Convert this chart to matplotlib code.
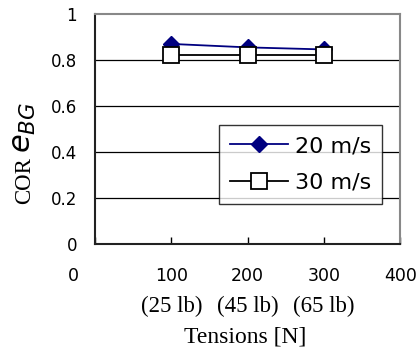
import matplotlib
matplotlib.use("Agg")
import matplotlib.pyplot as plt

# Data
tensions = [100, 200, 300]
lb_labels = ["(25 lb)", "(45 lb)", "(65 lb)"]
cor_20 = [0.87, 0.855, 0.846]
cor_30 = [0.82, 0.82, 0.82]
series_names = ["20 m/s", "30 m/s"]
x_ticks = [0, 100, 200, 300, 400]
y_ticks = [0, 0.2, 0.4, 0.6, 0.8, 1]
y_ticklabels = ["0", "0.2", "0.4", "0.6", "0.8", "1"]

SERIF = "Liberation Serif"
SANS = "DejaVu Sans"

fig = plt.figure(figsize=(4.19, 3.51), dpi=100)
ax = fig.add_axes([0.227, 0.305, 0.728, 0.655])

# gridlines
for yv in y_ticks[1:-1]:
    ax.axhline(yv, color="black", lw=0.9, zorder=1)

ax.plot(tensions, cor_20, color="#000080", lw=1.3, marker="D", ms=8.6,
        mfc="#000080", mec="#000080", label=series_names[0], zorder=3)
ax.plot(tensions, cor_30, color="black", lw=1.3, marker="s", ms=11.5,
        mfc="white", mec="black", mew=1.3, label=series_names[1], zorder=4)

ax.set_xlim(0, 400)
ax.set_ylim(0, 1)

ax.set_yticks(y_ticks)
ax.set_yticklabels(y_ticklabels, fontsize=12, family=SANS)
ax.tick_params(axis="y", length=0, pad=13)

ax.set_xticks(x_ticks)
ax.set_xticklabels([])
ax.tick_params(axis="x", direction="in", length=5, width=1)

# x tick labels drawn by hand; Excel puts "0" left of the axis start
for x in x_ticks:
    dx = -16 if x == 0 else 0
    ax.annotate(str(x), xy=(x, 0), xycoords=("data", "axes fraction"),
                xytext=(dx, -23), textcoords="offset points",
                ha="center", va="center", fontsize=12.5, family=SANS)

for x, s in zip(tensions, lb_labels):
    ax.annotate(s, xy=(x, 0), xycoords=("data", "axes fraction"),
                xytext=(0, -45), textcoords="offset points",
                ha="center", va="center", fontsize=16.5, family=SERIF)

ax.annotate("Tensions [N]", xy=(0.5, 0), xycoords="axes fraction",
            xytext=(-2, -67), textcoords="offset points",
            ha="center", va="center", fontsize=17, family=SERIF)

# y label: serif "COR" plus large italic e_BG
fig.text(25 / 419, 1 - 181 / 351, "COR", rotation=90, ha="center", va="center",
         fontsize=16.5, family=SERIF)
fig.text(24 / 419, 1 - 128 / 351, r"$e_{BG}$", rotation=90, ha="center", va="center",
         fontsize=22)

for side in ["left", "bottom"]:
    ax.spines[side].set_color("#222222")
    ax.spines[side].set_linewidth(1.5)
for side in ["top", "right"]:
    ax.spines[side].set_color("#888888")
    ax.spines[side].set_linewidth(1.5)

leg = ax.legend(loc="upper left", bbox_to_anchor=(0.407, 0.517), borderaxespad=0,
                prop={"family": SANS, "size": 16}, frameon=True,
                fancybox=False, edgecolor="black", handlelength=2.6,
                handletextpad=0.3, borderpad=0.5, labelspacing=0.75)
leg.get_frame().set_linewidth(1.0)
leg.set_zorder(5)

fig.savefig("out.png", dpi=100, facecolor="white")
